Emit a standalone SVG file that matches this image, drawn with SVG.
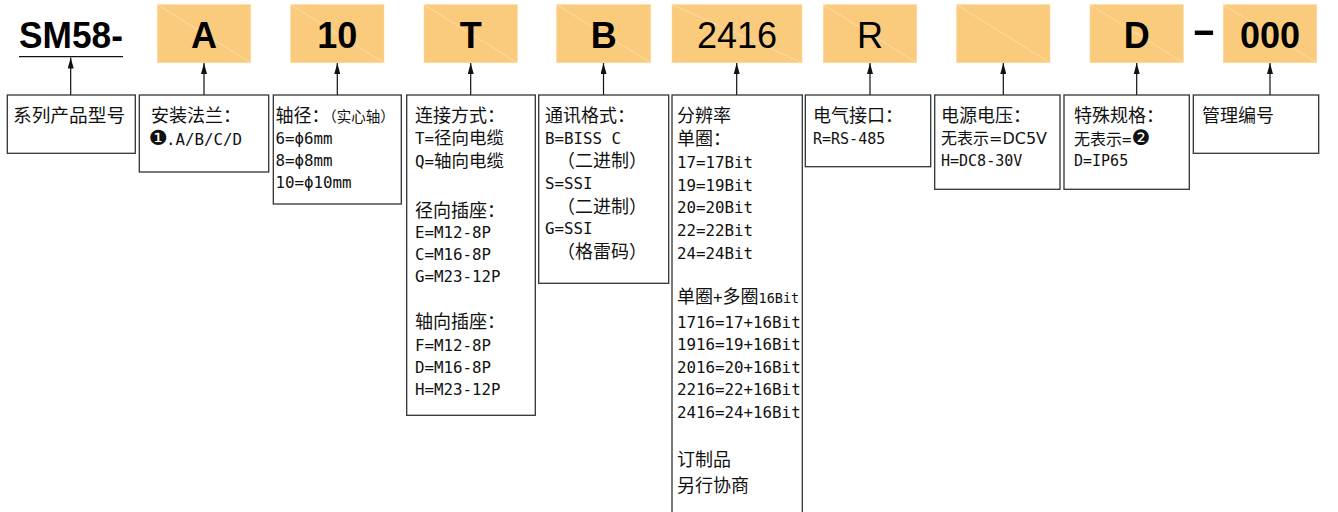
<svg xmlns="http://www.w3.org/2000/svg" width="1338" height="512" viewBox="0 0 1338 512">
<style>
.bg{fill:#ffffff}
.code{fill:#FBCB7D;stroke:#FDD79A;stroke-width:0.6}
.diag{stroke:#ffffff;stroke-opacity:0.45;stroke-width:0.7}
.big{font-family:"Liberation Sans",Arial,sans-serif;font-size:36px;font-weight:bold;fill:#000;text-anchor:middle}
.reg{font-weight:normal}
.box{fill:#ffffff;stroke:#333333;stroke-width:1.3}
.la{font-family:"DejaVu Sans Mono","Liberation Mono","Noto Sans CJK SC",monospace;font-size:15.8px;fill:#111}
.cj{font-family:"Noto Sans CJK SC",sans-serif;font-size:18px}
.cs{font-family:"Noto Sans CJK SC",sans-serif;font-size:16px}
.dv{font-family:"DejaVu Sans",sans-serif;font-size:16px}
.conn{stroke:#111;stroke-width:1.2;fill:none}
</style>
<defs>
<marker id="ah" markerUnits="userSpaceOnUse" markerWidth="11" markerHeight="6" refX="11" refY="3" orient="auto">
<path d="M0,0 L11,3 L0,6 z" fill="#111"/>
</marker>
</defs>
<rect class="bg" x="0" y="0" width="1338" height="512"/>

<g id="code-sm58">
<text x="19" y="47.7" class="big" style="text-anchor:start" textLength="104" lengthAdjust="spacingAndGlyphs">SM58-</text>
<line x1="19" y1="56.7" x2="123" y2="56.7" stroke="#111" stroke-width="1.3"/>
</g>
<g id="code-a"><rect class="code" x="157.3" y="4.7" width="93.4" height="58"/><line class="diag" x1="157.3" y1="4.7" x2="250.7" y2="62.7"/><text x="204" y="47.7" class="big">A</text></g>
<g id="code-10"><rect class="code" x="290.7" y="4.7" width="93.3" height="58"/><line class="diag" x1="290.7" y1="4.7" x2="384" y2="62.7"/><text x="337.3" y="47.7" class="big">10</text></g>
<g id="code-t"><rect class="code" x="424" y="4.7" width="93.3" height="58"/><line class="diag" x1="424" y1="4.7" x2="517.3" y2="62.7"/><text x="470.7" y="47.7" class="big">T</text></g>
<g id="code-b"><rect class="code" x="556.7" y="4.7" width="94" height="58"/><line class="diag" x1="556.7" y1="4.7" x2="650.7" y2="62.7"/><text x="603.7" y="47.7" class="big">B</text></g>
<g id="code-2416"><rect class="code" x="672" y="4.7" width="130" height="58"/><line class="diag" x1="672" y1="4.7" x2="802" y2="62.7"/><text x="737" y="47.7" class="big reg">2416</text></g>
<g id="code-r"><rect class="code" x="823.3" y="4.7" width="93.4" height="58"/><line class="diag" x1="823.3" y1="4.7" x2="916.7" y2="62.7"/><text x="870" y="47.7" class="big reg">R</text></g>
<g id="code-empty"><rect class="code" x="956.7" y="4.7" width="93.3" height="58"/><line class="diag" x1="956.7" y1="4.7" x2="1050" y2="62.7"/></g>
<g id="code-d"><rect class="code" x="1090" y="4.7" width="93.3" height="58"/><line class="diag" x1="1090" y1="4.7" x2="1183.3" y2="62.7"/><text x="1136.7" y="47.7" class="big">D</text></g>
<g id="code-dash"><text class="big" style="text-anchor:start" transform="translate(1192,41.5) scale(2,1)" x="0" y="0">-</text></g>
<g id="code-000"><rect class="code" x="1223.3" y="4.7" width="93.4" height="58"/><line class="diag" x1="1223.3" y1="4.7" x2="1316.7" y2="62.7"/><text x="1270" y="47.7" class="big">000</text></g>

<g id="connectors">
<line class="conn" x1="70.7" y1="95" x2="70.7" y2="57.5" marker-end="url(#ah)"/>
<line class="conn" x1="204" y1="95" x2="204" y2="63" marker-end="url(#ah)"/>
<line class="conn" x1="337.3" y1="95" x2="337.3" y2="63" marker-end="url(#ah)"/>
<line class="conn" x1="470.7" y1="95" x2="470.7" y2="63" marker-end="url(#ah)"/>
<line class="conn" x1="603.5" y1="95" x2="603.5" y2="63" marker-end="url(#ah)"/>
<line class="conn" x1="736.7" y1="95" x2="736.7" y2="63" marker-end="url(#ah)"/>
<line class="conn" x1="870" y1="95" x2="870" y2="63" marker-end="url(#ah)"/>
<line class="conn" x1="1003.3" y1="95" x2="1003.3" y2="63" marker-end="url(#ah)"/>
<line class="conn" x1="1136.7" y1="95" x2="1136.7" y2="63" marker-end="url(#ah)"/>
<line class="conn" x1="1270" y1="95" x2="1270" y2="63" marker-end="url(#ah)"/>
</g>

<g id="desc-series">
<rect class="box" x="7.3" y="95" width="128" height="58.3"/>
<text x="13" y="121.5" class="la"><tspan class="cj" style="font-size:18.7px">系列产品型号</tspan></text>
</g>

<g id="desc-flange">
<rect class="box" x="139.3" y="95" width="129.4" height="77"/>
<text x="151" y="121.5" class="la"><tspan class="cj">安装法兰：</tspan></text>
<text x="148.5" y="145" class="la"><tspan class="dv" style="font-size:21px">❶</tspan><tspan x="166">.A/B/C/D</tspan></text>
</g>

<g id="desc-shaft">
<rect class="box" x="273.3" y="95" width="128" height="109"/>
<text x="275.5" y="121.5" class="la"><tspan class="cj">轴径：</tspan><tspan class="cj" style="font-size:14.5px">（实心轴）</tspan></text>
<text x="275.5" y="144" class="la">6=ϕ6mm</text>
<text x="275.5" y="166" class="la">8=ϕ8mm</text>
<text x="275.5" y="188" class="la">10=ϕ10mm</text>
</g>

<g id="desc-connection">
<rect class="box" x="406.7" y="95" width="128.6" height="320.3"/>
<text x="415" y="121.5" class="la"><tspan class="cj">连接方式：</tspan></text>
<text x="415" y="144" class="la">T=<tspan class="cj" style="font-size:17.5px">径向电缆</tspan></text>
<text x="415" y="167" class="la">Q=<tspan class="cj" style="font-size:17.5px">轴向电缆</tspan></text>
<text x="415" y="217" class="la"><tspan class="cj">径向插座：</tspan></text>
<text x="415" y="238" class="la">E=M12-8P</text>
<text x="415" y="260" class="la">C=M16-8P</text>
<text x="415" y="282" class="la">G=M23-12P</text>
<text x="415" y="328" class="la"><tspan class="cj">轴向插座：</tspan></text>
<text x="415" y="351" class="la">F=M12-8P</text>
<text x="415" y="373" class="la">D=M16-8P</text>
<text x="415" y="395" class="la">H=M23-12P</text>
</g>

<g id="desc-protocol">
<rect class="box" x="538.7" y="95" width="130" height="188.3"/>
<text x="545" y="121.5" class="la"><tspan class="cj">通讯格式：</tspan></text>
<text x="545" y="143.5" class="la">B=BISS C</text>
<text x="557" y="166.5" class="la"><tspan class="cj">（二进制）</tspan></text>
<text x="545" y="189" class="la">S=SSI</text>
<text x="557" y="212.5" class="la"><tspan class="cj">（二进制）</tspan></text>
<text x="545" y="234" class="la">G=SSI</text>
<text x="557" y="258" class="la"><tspan class="cj">（格雷码）</tspan></text>
</g>

<g id="desc-resolution">
<rect class="box" x="672" y="95" width="130.3" height="430"/>
<text x="677" y="121.5" class="la"><tspan class="cj">分辨率</tspan></text>
<text x="677" y="145" class="la"><tspan class="cj">单圈：</tspan></text>
<text x="677" y="168" class="la">17=17Bit</text>
<text x="677" y="190.5" class="la">19=19Bit</text>
<text x="677" y="213" class="la">20=20Bit</text>
<text x="677" y="236" class="la">22=22Bit</text>
<text x="677" y="258.5" class="la">24=24Bit</text>
<text x="677" y="303" class="la"><tspan class="cj">单圈</tspan>+<tspan class="cj">多圈</tspan><tspan style="font-size:13.5px">16Bit</tspan></text>
<text x="677" y="327.5" class="la">1716=17+16Bit</text>
<text x="677" y="350" class="la">1916=19+16Bit</text>
<text x="677" y="372.5" class="la">2016=20+16Bit</text>
<text x="677" y="395" class="la">2216=22+16Bit</text>
<text x="677" y="417.5" class="la">2416=24+16Bit</text>
<text x="677" y="465.5" class="la"><tspan class="cj">订制品</tspan></text>
<text x="677" y="491.5" class="la"><tspan class="cj">另行协商</tspan></text>
</g>

<g id="desc-interface">
<rect class="box" x="805.3" y="95" width="125.4" height="71.7"/>
<text x="813" y="121.5" class="la"><tspan class="cj">电气接口：</tspan></text>
<text x="813" y="144" class="la" style="font-size:15px">R=RS-485</text>
</g>

<g id="desc-power">
<rect class="box" x="934.7" y="95" width="125.3" height="94.3"/>
<text x="941" y="121.5" class="la"><tspan class="cj">电源电压：</tspan></text>
<text x="941" y="143.5" class="la"><tspan class="cs">无表示</tspan><tspan class="dv">=DC5V</tspan></text>
<text x="941" y="165.5" class="la" style="font-size:15px">H=DC8-30V</text>
</g>

<g id="desc-special">
<rect class="box" x="1064" y="95" width="125.3" height="94.3"/>
<text x="1074" y="121.5" class="la"><tspan class="cj">特殊规格：</tspan></text>
<text x="1074" y="145" class="la"><tspan class="cs">无表示</tspan>=<tspan class="dv" style="font-size:21px">❷</tspan></text>
<text x="1074" y="166" class="la" style="font-size:15px">D=IP65</text>
</g>

<g id="desc-serial">
<rect class="box" x="1193.3" y="95" width="125.4" height="58.3"/>
<text x="1202" y="121.5" class="la"><tspan class="cj">管理编号</tspan></text>
</g>
</svg>
